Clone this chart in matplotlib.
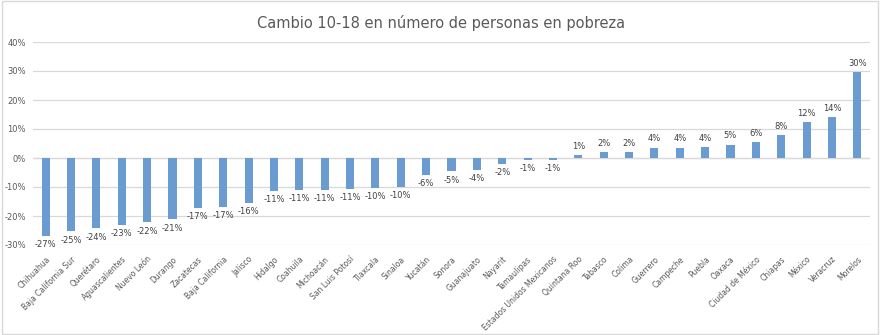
import matplotlib.pyplot as plt
import matplotlib.ticker as mticker
from matplotlib.patches import Rectangle

estados = ["Chihuahua", "Baja California Sur", "Querétaro", "Aguascalientes", "Nuevo León",
           "Durango", "Zacatecas", "Baja California", "Jalisco", "Hidalgo", "Coahuila",
           "Michoacán", "San Luis Potosí", "Tlaxcala", "Sinaloa", "Yucatán", "Sonora",
           "Guanajuato", "Nayarit", "Tamaulipas", "Estados Unidos Mexicanos", "Quintana Roo",
           "Tabasco", "Colima", "Guerrero", "Campeche", "Puebla", "Oaxaca",
           "Ciudad de México", "Chiapas", "México", "Veracruz", "Morelos"]
cambio = [-26.8, -25.3, -24.3, -23.0, -22.2, -21.2, -17.1, -16.8, -15.6, -11.3, -11.0,
          -11.0, -10.6, -10.3, -9.9, -5.9, -4.6, -4.2, -2.1, -0.8, -0.8, 0.9,
          2.0, 2.1, 3.6, 3.6, 3.9, 4.6, 5.6, 7.9, 12.3, 14.2, 29.5]

gray = "#595959"
fig = plt.figure(figsize=(8.82, 3.35), dpi=100)
fig.patches.append(Rectangle((0.002, 0.003), 0.994, 0.994, transform=fig.transFigure,
                             fill=False, edgecolor="#d9d9d9", linewidth=1))
ax = fig.add_axes([33 / 882, 1 - 245 / 335, 837 / 882, 203 / 335])

x = range(len(estados))
bars = ax.bar(x, cambio, width=0.32, color="#6a9bd1", zorder=3)
for xi, v in zip(x, cambio):
    off = 3 if v >= 0 else -3
    ax.annotate(f"{v:.0f}%", (xi, v), xytext=(0, off), textcoords="offset points",
                ha="center", va="bottom" if v >= 0 else "top", fontsize=6, color="#404040")

ax.set_xlim(-0.5, len(estados) - 0.5)
ax.set_ylim(-30, 40)
ax.set_yticks(range(-30, 41, 10))
ax.yaxis.set_major_formatter(mticker.FuncFormatter(lambda v, p: f"{v:.0f}%"))
ax.grid(axis="y", color="#d9d9d9", linewidth=0.9, zorder=0)
ax.axhline(0, color="#d9d9d9", linewidth=0.9, zorder=1)
for s in ax.spines.values():
    s.set_visible(False)
ax.tick_params(axis="y", length=0, labelsize=6, colors=gray, pad=5)
ax.tick_params(axis="x", length=0, labelsize=5.5, colors=gray, pad=7)
ax.set_xticks(list(x))
ax.set_xticklabels(estados, rotation=45, ha="right", rotation_mode="anchor")

fig.suptitle("Cambio 10-18 en número de personas en pobreza", y=0.955, fontsize=10.5, color=gray)
fig.savefig("out.png", dpi=100)
